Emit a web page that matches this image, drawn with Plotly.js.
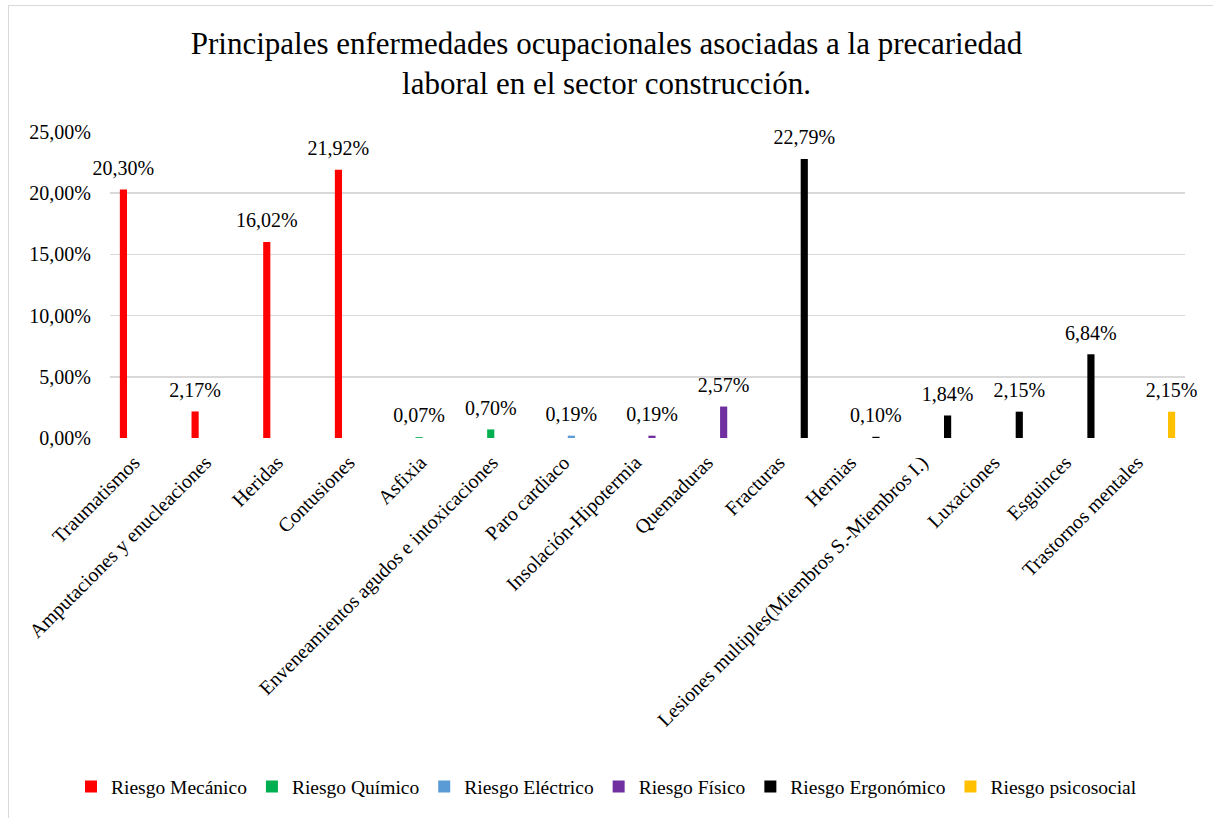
<!DOCTYPE html>
<html>
<head>
<meta charset="utf-8">
<script src="https://cdn.plot.ly/plotly-3.0.1.min.js"></script>
<style>
  html, body { margin: 0; padding: 0; background: #fff; overflow: hidden; }
  #wrap { position: relative; width: 1213px; height: 818px; }
  #chart { width: 1213px; height: 818px; }
  #frame { position: absolute; left: 8px; top: 5px; width: 1230px; height: 840px;
           border: 1px solid #d9d9d9; pointer-events: none; box-sizing: border-box; }
</style>
</head>
<body>
<div id="wrap"><div id="chart"></div><div id="frame"></div></div>
<script>
// ---- data ----
const categories = [
  "Traumatismos",
  "Amputaciones y enucleaciones",
  "Heridas",
  "Contusiones",
  "Asfixia",
  "Enveneamientos agudos e intoxicaciones",
  "Paro cardiaco",
  "Insolación-Hipotermia",
  "Quemaduras",
  "Fracturas",
  "Hernias",
  "Lesiones multiples(Miembros S.-Miembros I.)",
  "Luxaciones",
  "Esguinces",
  "Trastornos mentales"
];
const values = [0.2030, 0.0217, 0.1602, 0.2192, 0.0007, 0.0070, 0.0019, 0.0019, 0.0257, 0.2279, 0.0010, 0.0184, 0.0215, 0.0684, 0.0215];
const riskOfCategory = [0, 0, 0, 0, 1, 1, 2, 3, 3, 4, 4, 4, 4, 4, 5];
const seriesNames = ["Riesgo Mecánico", "Riesgo Químico", "Riesgo Eléctrico", "Riesgo Físico", "Riesgo Ergonómico", "Riesgo psicosocial"];
const seriesColors = ["#FF0000", "#00B050", "#5B9BD5", "#7030A0", "#000000", "#FFC000"];

const FONT = "'Liberation Serif', 'Times New Roman', serif";
function fmt(v) { return (v * 100).toFixed(2).replace('.', ',') + '%'; }

const traces = [];
seriesNames.forEach((name, s) => {
  const y = values.map((v, i) => riskOfCategory[i] === s ? v : null);
  traces.push({
    type: 'bar', name: name, x: categories, y: y,
    marker: { color: seriesColors[s] },
    offsetgroup: 'g' + s, alignmentgroup: 'a',
    hoverinfo: 'skip'
  });
});
seriesNames.forEach((name, s) => {
  const y = values.map((v, i) => riskOfCategory[i] === s ? v : null);
  traces.push({
    type: 'scatter', mode: 'markers+text', x: categories, y: y,
    text: y.map(v => v === null ? '' : fmt(v)),
    textposition: 'top center',
    textfont: { family: FONT, size: 20, color: '#000' },
    marker: { size: 14, opacity: 0, color: '#fff' },
    offsetgroup: 'g' + s, alignmentgroup: 'a', orientation: 'v',
    showlegend: false, cliponaxis: false, hoverinfo: 'skip'
  });
});

const layout = {
  width: 1213, height: 818,
  paper_bgcolor: '#fff', plot_bgcolor: '#fff',
  separators: ',.',
  font: { family: FONT, size: 20, color: '#000' },
  margin: { l: 110, r: 28, t: 132, b: 380 },
  title: {
    text: 'Principales enfermedades ocupacionales asociadas a la precariedad<br>laboral en el sector construcción.',
    font: { family: FONT, size: 31, color: '#000' },
    x: 0.5, xanchor: 'center', y: 0.934, yref: 'container', yanchor: 'top'
  },
  barmode: 'group', bargap: 0.25, bargroupgap: 0.2,
  scattermode: 'group', scattergap: 0.25,
  xaxis: {
    type: 'category', tickangle: -45, showgrid: false, zeroline: false, showline: false,
    ticks: '', tickfont: { family: FONT, size: 20, color: '#000' }, automargin: false,
    ticklabelstandoff: 8, ticklabelshift: -12
  },
  yaxis: {
    range: [0, 0.25], dtick: 0.05, tickformat: '.2%',
    showgrid: true, gridcolor: '#d9d9d9', gridwidth: 1.5, zeroline: false, showline: false,
    ticks: '', tickfont: { family: FONT, size: 20, color: '#000' }, automargin: false,
    ticklabelstandoff: 18
  },
  showlegend: true,
  legend: {
    orientation: 'h', x: 0.5, xanchor: 'center', xref: 'container',
    y: 0.038, yanchor: 'middle', yref: 'container',
    font: { family: FONT, size: 19.5, color: '#000' },
    itemwidth: 30, tracegroupgap: 0
  }
};

Plotly.newPlot('chart', traces, layout, { displayModeBar: false, staticPlot: true });
</script>
</body>
</html>
